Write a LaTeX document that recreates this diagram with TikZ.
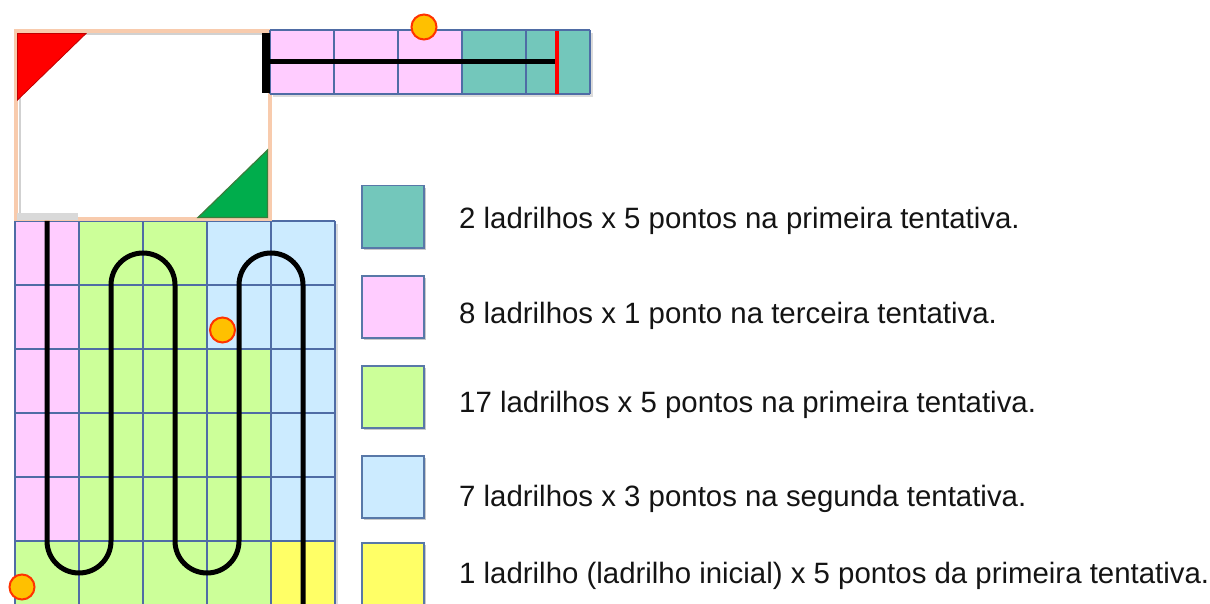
\documentclass[tikz,border=0pt]{standalone}
\usepackage{fontspec}
\setmainfont{Liberation Sans}
\usetikzlibrary{shadows}
\definecolor{tealT}{HTML}{73C7BB}
\definecolor{pinkT}{HTML}{FFCCFF}
\definecolor{greenT}{HTML}{CCFF99}
\definecolor{blueT}{HTML}{CCEBFF}
\definecolor{yellowT}{HTML}{FFFF66}
\definecolor{gridC}{HTML}{4F6CA5}
\definecolor{swC}{HTML}{5878A8}
\definecolor{peachC}{HTML}{F8CBAD}
\definecolor{redT}{HTML}{FF0000}
\definecolor{redD}{HTML}{C00000}
\definecolor{greenF}{HTML}{00AD4C}
\definecolor{greenD}{HTML}{3B7D3B}
\definecolor{coinF}{HTML}{FFC000}
\definecolor{coinD}{HTML}{FF3300}
\definecolor{greyBar}{HTML}{D9D9D9}
\begin{document}
\begin{tikzpicture}[x=1pt,y=-1pt,
  gridline/.style={draw=gridC, line width=1.1pt},
  swatch/.style={draw=swC, line width=1.5pt, minimum width=62pt, minimum height=62pt,
    inner sep=0pt, anchor=north west,
    drop shadow={shadow xshift=1.8pt, shadow yshift=-1.8pt, opacity=0.35, fill=black!60}},
  legtext/.style={font=\fontsize{29.4}{34}\selectfont, anchor=base west, inner sep=0pt, text=black!92},
  coin/.style={circle, fill=coinF, draw=coinD, line width=2pt, minimum size=25pt, inner sep=0pt},
  track/.style={line width=5pt, draw=black}]
\useasboundingbox (0,0) rectangle (1210,604);
\fill[white] (0,0) rectangle (1210,604);

% ---- shadows of grid and strip
\fill[black!14] (18,224) rectangle (338,608);
\fill[black!14] (273,33) rectangle (593,97);

% ---- big grid fills
\fill[pinkT] (15,221) rectangle (79,541);
\fill[greenT] (15,541) rectangle (79,605);
\fill[greenT] (79,221) rectangle (207,605);
\fill[blueT] (207,221) rectangle (271,349);
\fill[greenT] (207,349) rectangle (271,605);
\fill[blueT] (271,221) rectangle (335,541);
\fill[yellowT] (271,541) rectangle (335,605);
\foreach \i in {0,...,5} \draw[gridline] ({15+64*\i},221) -- ({15+64*\i},605);
\foreach \j in {0,...,6} \draw[gridline] (15,{221+64*\j}) -- (335,{221+64*\j});

% ---- white box with peach border
\fill[white] (16,31) rectangle (270,219);
\draw[black!18, line width=2pt] (19.5,36) -- (19.5,216);
\draw[black!18, line width=2pt] (20,34.5) -- (262,34.5);
\draw[peachC, line width=4.5pt] (16,31) rectangle (270,219);
\fill[greyBar] (17,213) rectangle (78,220);
\filldraw[fill=redT, draw=redD, line width=0.8pt] (17.5,33.5) -- (86,33.5) -- (17.5,100) -- cycle;
\filldraw[fill=greenF, draw=greenD, line width=1.2pt] (267.5,150) -- (267.5,217.5) -- (198,217.5) -- cycle;

% ---- top strip
\fill[pinkT] (270,30) rectangle (462,94);
\fill[tealT] (462,30) rectangle (590,94);
\foreach \xx in {270,334,398,462,526,590} \draw[gridline] (\xx,30) -- (\xx,94);
\foreach \yy in {30,94} \draw[gridline] (270,\yy) -- (590,\yy);
\fill[black] (262,33) rectangle (269.5,93);
\coordinate (sA) at (269,62);
\coordinate (sB) at (556,62);
\draw[line width=5pt] (sA) -- (sB);
\coordinate (rA) at (557,31);
\coordinate (rB) at (557,94);
\draw[redT, line width=4pt] (rA) -- (rB);

% ---- track on the grid
\draw[track] (47,221) -- (47,541) arc[start angle=180, end angle=0, radius=32]
  -- (111,285) arc[start angle=180, end angle=360, radius=32]
  -- (175,541) arc[start angle=180, end angle=0, radius=32]
  -- (239,285) arc[start angle=180, end angle=360, radius=32]
  -- (303,605);

% ---- coins
\node[coin] (c1) at (424,27) {};
\node[coin] (c2) at (222.5,330) {};
\node[coin] (c3) at (22,587) {};

% ---- legend
\node[swatch, fill=tealT] (s1) at (361,185) {};
\node[swatch, fill=pinkT] (s2) at (361,275) {};
\node[swatch, fill=greenT] (s3) at (361,365) {};
\node[swatch, fill=blueT] (s4) at (361,455) {};
\node[swatch, fill=yellowT] (s5) at (361,542) {};

\node[legtext] (t1) at (459,229) {2 ladrilhos x 5 pontos na primeira tentativa.};
\node[legtext] (t2) at (459,323) {8 ladrilhos x 1 ponto na terceira tentativa.};
\node[legtext] (t3) at (459,412) {17 ladrilhos x 5 pontos na primeira tentativa.};
\node[legtext] (t4) at (459,506) {7 ladrilhos x 3 pontos na segunda tentativa.};
\node[legtext] (t5) at (459,583) {1 ladrilho (ladrilho inicial) x 5 pontos da primeira tentativa.};
\end{tikzpicture}
\end{document}
